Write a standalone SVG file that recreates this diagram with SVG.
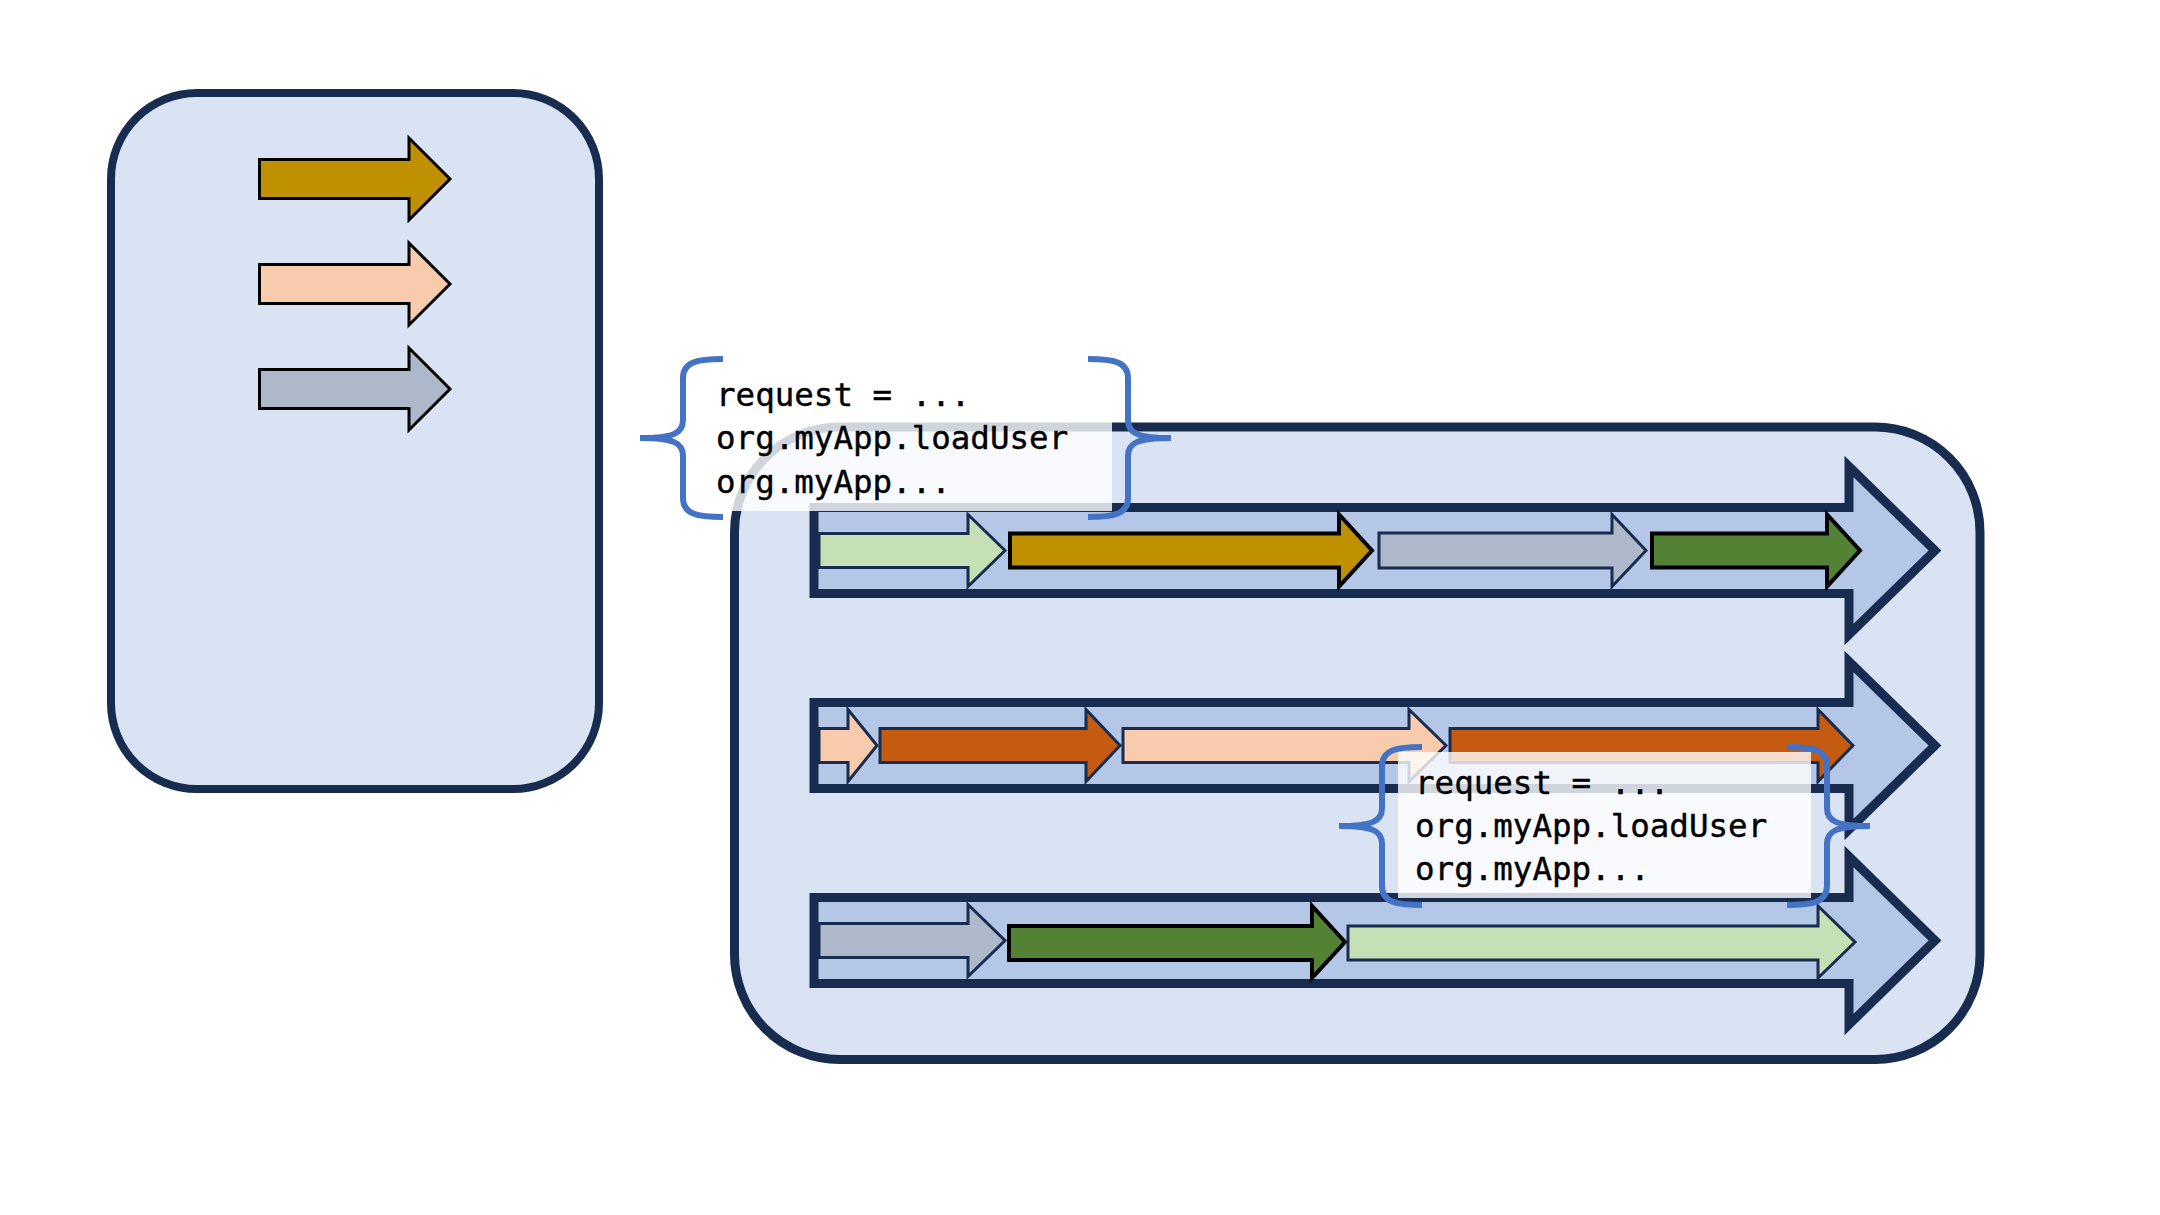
<svg xmlns="http://www.w3.org/2000/svg" width="2160" height="1215" viewBox="0 0 2160 1215">
<style>
.panel{fill:#DAE3F3;stroke:#182C50;stroke-width:8}
.lane{fill:#B4C7E7;stroke:#182C50;stroke-width:9}
.an{stroke:#182C50;stroke-width:3}
.ab{stroke:#000;stroke-width:4}
.al{stroke:#000;stroke-width:3}
.gold{fill:#BF9000}.peach{fill:#F8CBAD}.gray{fill:#ADB9CA}.lg{fill:#C5E0B4}.dg{fill:#548235}.or{fill:#C55A11}
.tbox{fill:#FFFFFF;fill-opacity:0.8}
.code{font-family:"DejaVu Sans Mono","Liberation Mono",monospace;font-size:32.5px;fill:#000;stroke:#000;stroke-width:0.4}
.brace{fill:none;stroke:#4472C4;stroke-width:6}
</style>
<rect width="2160" height="1215" fill="#FFFFFF"/>
<g id="legend">
<rect class="panel" x="111" y="93" width="488" height="696" rx="86" ry="86"/>
<path id="legend-gold" class="al gold" d="M259.5,159.5 L409,159.5 L409,138 L450,179 L409,220 L409,198.5 L259.5,198.5 Z"/>
<path id="legend-peach" class="al peach" d="M259.5,264.5 L409,264.5 L409,243 L450,284 L409,325 L409,303.5 L259.5,303.5 Z"/>
<path id="legend-gray" class="al gray" d="M259.5,369.5 L409,369.5 L409,348 L450,389 L409,430 L409,408.5 L259.5,408.5 Z"/>
</g>
<g id="threads">
<rect class="panel" style="stroke-width:9" x="734.5" y="427" width="1245.5" height="632.5" rx="105" ry="105"/>
<g id="lane1">
<path class="lane" d="M814,507.5 L1849,507.5 L1849,466.5 L1935,550.5 L1849,634.5 L1849,593.5 L814,593.5 Z"/>
<path class="an lg" d="M819,533.5 L968,533.5 L968,514.5 L1005,550.5 L968,586.5 L968,567.5 L819,567.5 Z"/>
<path class="ab gold" d="M1010,533.5 L1339,533.5 L1339,514.5 L1372,550.5 L1339,586.5 L1339,567.5 L1010,567.5 Z"/>
<path class="an gray" d="M1379,533 L1612,533 L1612,514.5 L1646,550.5 L1612,586.5 L1612,568 L1379,568 Z"/>
<path class="ab dg" d="M1652,533.5 L1827,533.5 L1827,514.5 L1860,550.5 L1827,586.5 L1827,567.5 L1652,567.5 Z"/>
</g>
<g id="lane2">
<path class="lane" d="M814,702.5 L1849,702.5 L1849,661.5 L1935,745.5 L1849,829.5 L1849,788.5 L814,788.5 Z"/>
<path class="an peach" d="M819,728.5 L848,728.5 L848,709.5 L877,745.5 L848,781.5 L848,762.5 L819,762.5 Z"/>
<path class="an or" d="M880,728.5 L1086,728.5 L1086,709.5 L1120,745.5 L1086,781.5 L1086,762.5 L880,762.5 Z"/>
<path class="an peach" d="M1123,728.5 L1409,728.5 L1409,709.5 L1446,745.5 L1409,781.5 L1409,762.5 L1123,762.5 Z"/>
<path class="an or" d="M1450,728.5 L1818,728.5 L1818,709.5 L1853,745.5 L1818,781.5 L1818,762.5 L1450,762.5 Z"/>
</g>
<g id="lane3">
<path class="lane" d="M814,897.5 L1849,897.5 L1849,856.5 L1935,940.5 L1849,1024.5 L1849,983.5 L814,983.5 Z"/>
<path class="an gray" d="M819,923.5 L968,923.5 L968,904.5 L1005,940.5 L968,976.5 L968,957.5 L819,957.5 Z"/>
<path class="ab dg" d="M1009,926 L1312,926 L1312,906 L1345,942 L1312,978 L1312,960 L1009,960 Z"/>
<path class="an lg" d="M1348,926 L1818,926 L1818,906 L1855,942 L1818,978 L1818,960 L1348,960 Z"/>
</g>
</g>
<g id="context1">
<rect class="tbox" x="699" y="365" width="413" height="146"/>
<text class="code" x="716" y="406">request = ...</text>
<text class="code" x="716" y="449">org.myApp.loadUser</text>
<text class="code" x="716" y="492.5">org.myApp...</text>
<path class="brace" d="M723,359 C697,359 683,362 683,378 L683,420 C683,433 674,438 640,438 C674,438 683,443 683,456 L683,498 C683,514 697,517 723,517"/>
<path class="brace" d="M1088,359 C1114,359 1128,362 1128,378 L1128,420 C1128,433 1137,438 1171,438 C1137,438 1128,443 1128,456 L1128,498 C1128,514 1114,517 1088,517"/>
</g>
<g id="context2">
<rect class="tbox" x="1398" y="752" width="413" height="146"/>
<text class="code" x="1415" y="793.5">request = ...</text>
<text class="code" x="1415" y="837">org.myApp.loadUser</text>
<text class="code" x="1415" y="880">org.myApp...</text>
<path class="brace" d="M1422,747 C1396,747 1382,750 1382,766 L1382,808 C1382,821 1373,826 1339,826 C1373,826 1382,831 1382,844 L1382,886 C1382,902 1396,905 1422,905"/>
<path class="brace" d="M1787,747 C1813,747 1827,750 1827,766 L1827,808 C1827,821 1836,826 1870,826 C1836,826 1827,831 1827,844 L1827,886 C1827,902 1813,905 1787,905"/>
</g>
<g id="connectors"></g>
</svg>
